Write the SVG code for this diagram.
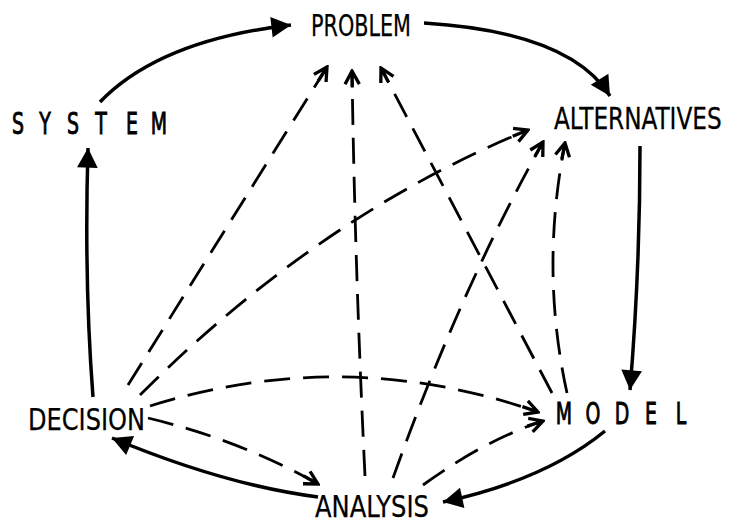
<svg xmlns="http://www.w3.org/2000/svg" width="735" height="525" viewBox="0 0 735 525">
<style>
.lbl{font-family:"DejaVu Sans Condensed","DejaVu Sans",sans-serif;font-size:30px;fill:#000;stroke:#000;stroke-width:0.25}
.sp{stroke-width:0.9}
.solid{fill:none;stroke:#000;stroke-width:3.5}
.dash{fill:none;stroke:#000;stroke-width:2.8;stroke-dasharray:26 13}
</style>
<defs>
<marker id="tri" markerUnits="userSpaceOnUse" markerWidth="24" markerHeight="24" viewBox="-20 -11 22 22" refX="0" refY="0" orient="auto">
<path d="M0,0 L-18,-9.5 L-18,9.5 Z" fill="#000"/>
</marker>
<marker id="vee" markerUnits="userSpaceOnUse" markerWidth="22" markerHeight="22" viewBox="-18 -10 20 20" refX="0" refY="0" orient="auto">
<path d="M-12,-6.5 L0,0 L-12,6.5 M0,0 L-15,0" fill="none" stroke="#000" stroke-width="3" stroke-linejoin="miter"/>
</marker>
</defs>
<rect width="735" height="525" fill="#fff"/>
<g id="connectors">
<path class="solid" d="M100,102 Q160,40 291,25" marker-end="url(#tri)"/>
<path class="solid" d="M424,23 Q570,32 610,96" marker-end="url(#tri)"/>
<path class="solid" d="M640,146 Q640,270 630,390" marker-end="url(#tri)"/>
<path class="solid" d="M605,431 Q545,480 443,502" marker-end="url(#tri)"/>
<path class="solid" d="M318,497 Q225,485 112,438" marker-end="url(#tri)"/>
<path class="solid" d="M93,397 Q84,280 88,148" marker-end="url(#tri)"/>
<path class="dash" d="M128,385 L327,67" marker-end="url(#vee)"/>
<path class="dash" d="M140,395 Q320,215 528,130" marker-end="url(#vee)"/>
<path class="dash" d="M150,406 Q345,345 538,412" marker-end="url(#vee)"/>
<path class="dash" d="M148,418 Q240,440 318,484" marker-end="url(#vee)"/>
<path class="dash" d="M365,476 Q355,270 352,71" marker-end="url(#vee)"/>
<path class="dash" d="M393,478 Q460,290 543,142" marker-end="url(#vee)"/>
<path class="dash" d="M423,485 Q485,440 543,421" marker-end="url(#vee)"/>
<path class="dash" d="M552,393 L381,68" marker-end="url(#vee)"/>
<path class="dash" d="M567,393 Q540,270 565,143" marker-end="url(#vee)"/>
</g>
<g id="problem"><text class="lbl" x="311" y="36" textLength="100" lengthAdjust="spacingAndGlyphs">PROBLEM</text></g>
<g id="alternatives"><text class="lbl" transform="translate(554,129) scale(0.86,1)" x="0" y="0">ALTERNATIVES</text></g>
<g id="decision"><text class="lbl" x="28" y="430" textLength="117" lengthAdjust="spacingAndGlyphs">DECISION</text></g>
<g id="analysis"><text class="lbl" x="315" y="517" textLength="114" lengthAdjust="spacingAndGlyphs">ANALYSIS</text></g>
<g id="system"><text class="lbl sp" transform="scale(0.7,1)" text-anchor="middle" x="25.7 64.3 104.3 144.3 188.6 227.1" y="134">SYSTEM</text></g>
<g id="model"><text class="lbl sp" transform="scale(0.7,1)" text-anchor="middle" x="805.7 847.1 888.6 930 972.9" y="424">MODEL</text></g>
</svg>
